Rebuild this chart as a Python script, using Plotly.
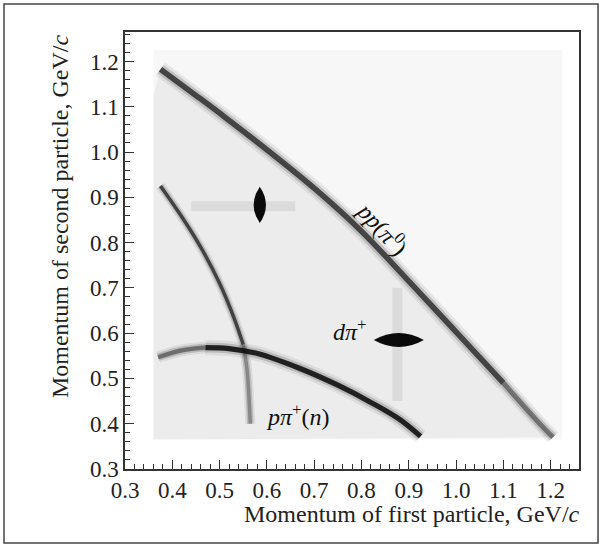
import plotly.graph_objects as go

# band centre lines (GeV/c)
pp_x = [0.375, 0.45, 0.51, 0.60, 0.70, 0.80, 0.90, 1.00, 1.10, 1.17, 1.205]
pp_y = [1.183, 1.125, 1.078, 1.005, 0.92, 0.825, 0.715, 0.603, 0.49, 0.408, 0.37]

arc_x = [0.37, 0.42, 0.47, 0.52, 0.58, 0.67, 0.75, 0.82, 0.88, 0.925]
arc_y = [0.547, 0.562, 0.568, 0.566, 0.555, 0.522, 0.485, 0.447, 0.41, 0.372]

thin_x = [0.375, 0.42, 0.46, 0.50, 0.53, 0.55, 0.558, 0.562, 0.565]
thin_y = [0.925, 0.857, 0.79, 0.71, 0.635, 0.575, 0.52, 0.46, 0.40]

# faint streaks through the two peaks
hstreak_x = [0.44, 0.66]
hstreak_y = [0.88, 0.88]
vstreak_x = [0.876, 0.876]
vstreak_y = [0.45, 0.70]

# peaks: centre and half extents
blob_x = [0.585, 0.879]
blob_y = [0.883, 0.585]
blob_dx = [0.013, 0.053]
blob_dy = [0.040, 0.0155]

# populated area of the scatter
area_x = [0.36, 1.225]
area_y = [0.365, 1.225]

labels = ["<i>pp</i>(<i>π</i><sup>0</sup>)", "<i>dπ</i><sup>+</sup>", "<i>pπ</i><sup>+</sup>(<i>n</i>)"]
label_x = [0.845, 0.776, 0.666]
label_y = [0.834, 0.607, 0.419]
label_angle = [48, 0, 0]

x_title = "Momentum of first particle, GeV/<i>c</i>"
y_title = "Momentum of second particle, GeV/<i>c</i>"

FONT = "Liberation Serif"

fig = go.Figure()

# background haze
fig.add_trace(go.Scatter(
    x=[area_x[0], area_x[1], area_x[1], area_x[0], area_x[0]],
    y=[area_y[0], area_y[0], area_y[1], area_y[1], area_y[0]],
    mode="lines", fill="toself", fillcolor="rgba(0,0,0,0.03)",
    line=dict(width=0), hoverinfo="skip", showlegend=False))
fig.add_trace(go.Scatter(
    x=[area_x[0]] + pp_x + [area_x[0]],
    y=[pp_y[0] - 0.06] + pp_y + [area_y[0]],
    mode="lines", fill="toself", fillcolor="rgba(0,0,0,0.045)",
    line=dict(width=0), hoverinfo="skip", showlegend=False))

# streaks
for sx, sy in [(hstreak_x, hstreak_y), (vstreak_x, vstreak_y)]:
    fig.add_trace(go.Scatter(x=sx, y=sy, mode="lines",
                             line=dict(color="rgba(0,0,0,0.07)", width=10),
                             hoverinfo="skip", showlegend=False))


# bands: soft halo, middle and core
def band(xs, ys, w, dark):
    for k, a in [(2.0, 0.07), (1.3, 0.16), (0.7, dark)]:
        fig.add_trace(go.Scatter(x=xs, y=ys, mode="lines",
                                 line=dict(color=f"rgba(15,15,15,{a})", width=w * k, shape="spline"),
                                 hoverinfo="skip", showlegend=False))


band(pp_x[:-2], pp_y[:-2], 8, 0.7)
band(pp_x[-3:], pp_y[-3:], 7, 0.45)
band(arc_x[:3], arc_y[:3], 6, 0.45)
band(arc_x[2:], arc_y[2:], 7.5, 0.9)
band(thin_x[:6], thin_y[:6], 5, 0.7)
band(thin_x[5:], thin_y[5:], 5, 0.3)

# peaks as lens shapes
for bx, by, dx, dy in zip(blob_x, blob_y, blob_dx, blob_dy):
    if dy > dx:
        path = (f"M {bx},{by - dy} Q {bx + 2 * dx},{by} {bx},{by + dy} "
                f"Q {bx - 2 * dx},{by} {bx},{by - dy} Z")
    else:
        path = (f"M {bx - dx},{by} Q {bx},{by + 2 * dy} {bx + dx},{by} "
                f"Q {bx},{by - 2 * dy} {bx - dx},{by} Z")
    fig.add_shape(type="path", path=path, xref="x", yref="y",
                  fillcolor="#0a0a0a", line=dict(width=0))

for t, lx, ly, a in zip(labels, label_x, label_y, label_angle):
    fig.add_annotation(x=lx, y=ly, text=t, showarrow=False, textangle=a,
                       font=dict(family=FONT, size=24, color="#111"))

# axis titles sit flush right / flush top as in the original
fig.add_annotation(text=x_title, xref="paper", yref="paper", x=1.0066, y=-0.103,
                   xanchor="right", yanchor="middle", showarrow=False,
                   font=dict(family=FONT, size=24, color="#222"))
fig.add_annotation(text=y_title, xref="paper", yref="paper", x=-0.143, y=1.0,
                   xanchor="center", yanchor="top", textangle=-90, showarrow=False,
                   font=dict(family=FONT, size=24, color="#222"))

# outer frame
fig.add_shape(type="rect", xref="paper", yref="paper",
              x0=-0.2665, x1=1.0419, y0=-0.1693, y1=1.064,
              line=dict(color="#444", width=1.5))

axis_common = dict(
    showgrid=False, zeroline=False, showline=True, mirror=True,
    linecolor="#333", linewidth=1.5, ticks="inside", ticklen=9,
    tickcolor="#333", tickwidth=1.2, dtick=0.1, tickformat=".1f",
    minor=dict(dtick=0.02, ticks="inside", ticklen=5, tickcolor="#333", tickwidth=1),
    tickfont=dict(family=FONT, size=23, color="#222"),
)

fig.update_layout(
    width=601, height=549,
    margin=dict(l=125, r=22, t=32, b=80),
    paper_bgcolor="white", plot_bgcolor="white",
    xaxis=dict(axis_common, range=[0.3, 1.26], tick0=0.3),
    yaxis=dict(axis_common, range=[0.3, 1.265], tick0=0.3),
)

fig.write_html("out.html", config={"displayModeBar": False},
               post_script="document.body.style.margin='0';")
